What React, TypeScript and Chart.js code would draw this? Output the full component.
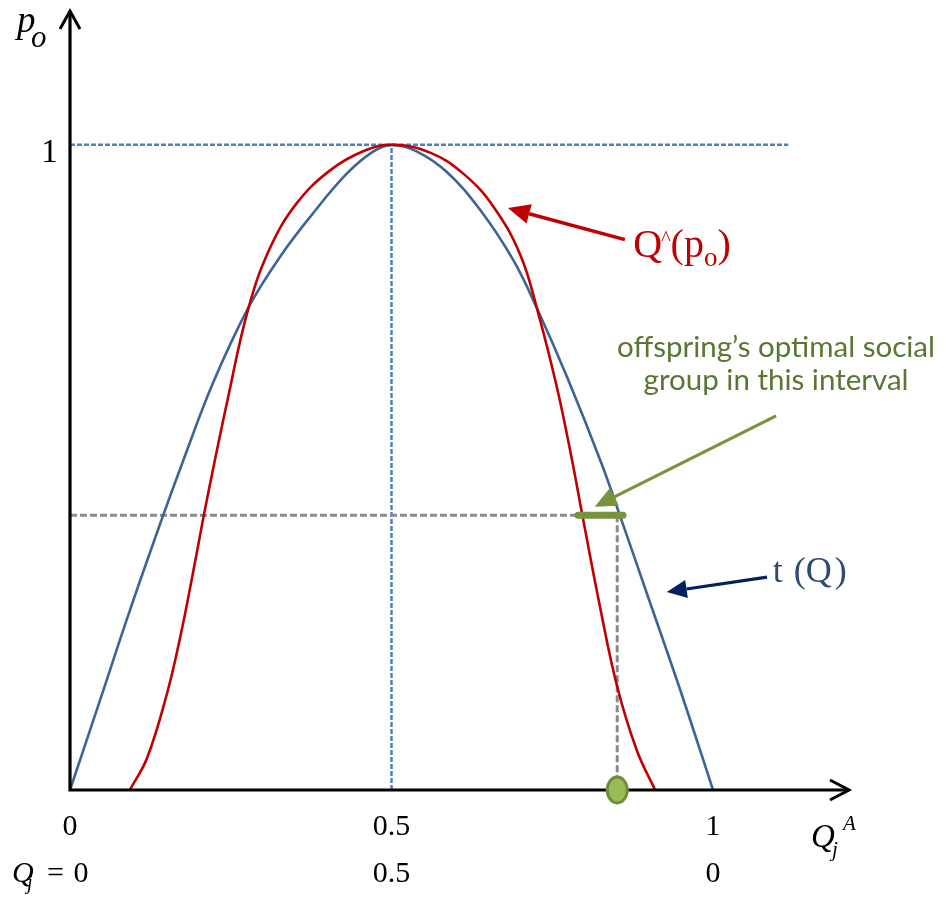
import React, { useEffect, useRef } from "react";
import { Chart, registerables } from "chart.js";

Chart.register(...registerables);

// ---- data ----
const tQ_x = [0, 0.047, 0.093, 0.145, 0.174, 0.222, 0.277, 0.327, 0.378, 0.43, 0.472, 0.502, 0.539, 0.586, 0.638, 0.689, 0.726, 0.773, 0.827, 0.855, 0.897, 0.949, 1.0];
const tQ_y = [0, 0.14, 0.278, 0.426, 0.505, 0.63, 0.747, 0.827, 0.894, 0.955, 0.99, 1.0, 0.99, 0.958, 0.899, 0.822, 0.747, 0.64, 0.505, 0.426, 0.305, 0.155, 0];

const qHat_x = [0.093, 0.12, 0.151, 0.171, 0.191, 0.207, 0.221, 0.244, 0.277, 0.311, 0.353, 0.404, 0.456, 0.502, 0.56, 0.612, 0.658, 0.7, 0.726, 0.757, 0.781, 0.796, 0.824, 0.851, 0.882, 0.91];
const qHat_y = [0, 0.05, 0.15, 0.235, 0.335, 0.42, 0.49, 0.6, 0.745, 0.84, 0.91, 0.96, 0.99, 1.0, 0.988, 0.955, 0.905, 0.83, 0.747, 0.625, 0.51, 0.43, 0.285, 0.16, 0.06, 0];

const xTickValues = [0, 0.5, 1];
const xTickLabels = ["0", "0.5", "1"];
const qjTickLabels = ["0", "0.5", "0"];
const yTickValues = [1];
const yTickLabels = ["1"];

const peak = { x: 0.5, y: 1 };
const refLineEndX = 1.117;
const level = { x: 0.851, y: 0.426 };
const interval = [0.79, 0.86];
const markerX = 0.851;
const axisMax = { x: 1.213, y: 1.209 };

// annotation anchors (data coordinates)
const notes = {
  qHatText: { x: 0.876, y: 0.826 },
  qHatArrow: { from: [0.863, 0.853], to: [0.681, 0.902] },
  tText: { x: 1.093, y: 0.322 },
  tArrow: { from: [1.084, 0.33], to: [0.928, 0.307] },
  groupText: { x: 1.098, y1: 0.671, y2: 0.62 },
  groupArrow: { from: [1.098, 0.58], to: [0.816, 0.439] },
};

const toPts = (xs: number[], ys: number[]) => xs.map((x, i) => ({ x, y: ys[i] }));

function drawArrow(ctx: CanvasRenderingContext2D, x1: number, y1: number, x2: number, y2: number, color: string, width: number, headLen: number, headHalf: number) {
  const ang = Math.atan2(y2 - y1, x2 - x1);
  const bx = x2 - headLen * Math.cos(ang);
  const by = y2 - headLen * Math.sin(ang);
  ctx.strokeStyle = color;
  ctx.fillStyle = color;
  ctx.lineWidth = width;
  ctx.lineCap = "butt";
  ctx.beginPath();
  ctx.moveTo(x1, y1);
  ctx.lineTo(bx, by);
  ctx.stroke();
  ctx.beginPath();
  ctx.moveTo(x2, y2);
  ctx.lineTo(bx + headHalf * Math.sin(ang), by - headHalf * Math.cos(ang));
  ctx.lineTo(bx - headHalf * Math.sin(ang), by + headHalf * Math.cos(ang));
  ctx.closePath();
  ctx.fill();
}

const overlay = {
  id: "overlay",
  afterDatasetsDraw(chart: any) {
    const ctx: CanvasRenderingContext2D = chart.ctx;
    const xs = chart.scales.x;
    const ys = chart.scales.y;
    const X = (v: number) => xs.getPixelForValue(v);
    const Y = (v: number) => ys.getPixelForValue(v);
    const ox = X(0);
    const oy = Y(0);
    const right = X(axisMax.x);
    const top = Y(axisMax.y);
    const serif = '"Liberation Serif", "Times New Roman", serif';
    ctx.save();

    // axes
    ctx.strokeStyle = "#000";
    ctx.lineWidth = 3.2;
    ctx.beginPath();
    ctx.moveTo(ox - 1.6, oy);
    ctx.lineTo(right - 1, oy);
    ctx.moveTo(ox, oy + 1.6);
    ctx.lineTo(ox, top + 1);
    ctx.stroke();
    ctx.lineWidth = 3;
    ctx.lineJoin = "miter";
    ctx.beginPath();
    ctx.moveTo(right - 20, oy - 10);
    ctx.lineTo(right - 1, oy);
    ctx.lineTo(right - 20, oy + 10);
    ctx.stroke();
    ctx.beginPath();
    ctx.moveTo(ox - 10, top + 19);
    ctx.lineTo(ox, top + 1);
    ctx.lineTo(ox + 10, top + 19);
    ctx.stroke();

    // marker on the axis
    ctx.beginPath();
    ctx.ellipse(X(markerX), oy, 10, 13, 0, 0, Math.PI * 2);
    ctx.fillStyle = "#9BBB59";
    ctx.fill();
    ctx.lineWidth = 3;
    ctx.strokeStyle = "#718D3A";
    ctx.stroke();

    // tick labels
    ctx.fillStyle = "#000";
    ctx.textBaseline = "alphabetic";
    ctx.font = `30px ${serif}`;
    ctx.textAlign = "center";
    xTickValues.forEach((v, i) => {
      ctx.fillText(xTickLabels[i], X(v), oy + 45);
      if (i > 0) ctx.fillText(qjTickLabels[i], X(v), oy + 92);
    });
    // Q_j = 0
    ctx.textAlign = "left";
    const q0x = X(xTickValues[0]);
    ctx.font = `italic 30px ${serif}`;
    ctx.fillText("Q", q0x - 58, oy + 92);
    ctx.font = `italic 20px ${serif}`;
    ctx.fillText("j", q0x - 43, oy + 99);
    ctx.font = `30px ${serif}`;
    ctx.fillText("=", q0x - 23, oy + 92);
    ctx.textAlign = "center";
    ctx.fillText(qjTickLabels[0], q0x + 11, oy + 92);

    // Q_j^A
    ctx.textAlign = "left";
    ctx.font = `italic 33px ${serif}`;
    ctx.fillText("Q", right - 39, oy + 57);
    ctx.font = `italic 21px ${serif}`;
    ctx.fillText("j", right - 18, oy + 66);
    ctx.fillText("A", right - 7, oy + 40);

    // y labels
    ctx.textAlign = "right";
    ctx.font = `34px ${serif}`;
    yTickValues.forEach((v, i) => ctx.fillText(yTickLabels[i], ox - 12, Y(v) + 17));
    ctx.textAlign = "left";
    ctx.font = `italic 37px ${serif}`;
    ctx.fillText("p", ox - 53, top + 22);
    ctx.font = `italic 31px ${serif}`;
    ctx.fillText("o", ox - 39, top + 37);

    // Q^(p_o) annotation
    drawArrow(ctx, X(notes.qHatArrow.from[0]), Y(notes.qHatArrow.from[1]), X(notes.qHatArrow.to[0]), Y(notes.qHatArrow.to[1]), "#C00000", 3.5, 22, 10);
    ctx.fillStyle = "#C00000";
    ctx.textAlign = "left";
    let cx = X(notes.qHatText.x);
    const qb = Y(notes.qHatText.y);
    ctx.font = `40px ${serif}`;
    ctx.fillText("Q", cx, qb);
    cx += ctx.measureText("Q").width;
    ctx.font = `20px ${serif}`;
    ctx.fillText("^", cx - 1, qb - 12);
    cx += ctx.measureText("^").width - 1;
    ctx.font = `40px ${serif}`;
    ctx.fillText("(", cx, qb);
    cx += ctx.measureText("(").width;
    ctx.fillText("p", cx, qb);
    cx += ctx.measureText("p").width;
    ctx.font = `27px ${serif}`;
    ctx.fillText("o", cx, qb + 9);
    cx += ctx.measureText("o").width;
    ctx.font = `40px ${serif}`;
    ctx.fillText(")", cx, qb);

    // t(Q) annotation
    drawArrow(ctx, X(notes.tArrow.from[0]), Y(notes.tArrow.from[1]), X(notes.tArrow.to[0]), Y(notes.tArrow.to[1]), "#002060", 3.2, 20, 9);
    ctx.fillStyle = "#2F4B74";
    ctx.font = `36px ${serif}`;
    const tx = X(notes.tText.x);
    const tb = Y(notes.tText.y);
    ctx.fillText("t", tx, tb);
    ctx.fillText("(", tx + 21, tb);
    ctx.fillText("Q", tx + 33, tb);
    ctx.fillText(")", tx + 62, tb);

    // group annotation
    drawArrow(ctx, X(notes.groupArrow.from[0]), Y(notes.groupArrow.from[1]), X(notes.groupArrow.to[0]), Y(notes.groupArrow.to[1]), "#77933C", 3, 22, 10);
    ctx.fillStyle = "#5B7633";
    ctx.textAlign = "center";
    ctx.font = `29.5px Lato, "Open Sans", sans-serif`;
    ctx.fillText("offspring\u2019s optimal social", X(notes.groupText.x), Y(notes.groupText.y1));
    ctx.fillText("group in this interval", X(notes.groupText.x), Y(notes.groupText.y2));

    ctx.restore();
  },
};

export default function App() {
  const ref = useRef<HTMLCanvasElement | null>(null);
  useEffect(() => {
    document.body.style.margin = "0";
    if (!ref.current) return;
    const dashedBlue = { borderColor: "#4F81BD", borderWidth: 2.5, borderDash: [5, 2], pointRadius: 0, tension: 0 };
    const dashedGray = { borderColor: "#8A8A8A", borderWidth: 3, borderDash: [7, 3], pointRadius: 0, tension: 0 };
    const chart = new Chart(ref.current, {
      type: "line",
      data: {
        datasets: [
          { label: "interval", data: [{ x: interval[0], y: level.y }, { x: interval[1], y: level.y }], borderColor: "#77933C", borderWidth: 7, borderCapStyle: "round", pointRadius: 0 } as any,
          { label: "Q^(p_o)", data: toPts(qHat_x, qHat_y), borderColor: "#C00000", borderWidth: 2.6, pointRadius: 0, tension: 0.4 } as any,
          { label: "t(Q)", data: toPts(tQ_x, tQ_y), borderColor: "#3E6395", borderWidth: 2.6, pointRadius: 0, tension: 0.4 } as any,
          { label: "h1", data: [{ x: 0, y: level.y }, { x: level.x, y: level.y }], ...dashedGray } as any,
          { label: "v1", data: [{ x: level.x, y: level.y }, { x: level.x, y: 0 }], ...dashedGray } as any,
          { label: "h2", data: [{ x: 0, y: peak.y }, { x: refLineEndX, y: peak.y }], ...dashedBlue } as any,
          { label: "v2", data: [{ x: peak.x, y: 0 }, { x: peak.x, y: peak.y }], ...dashedBlue } as any,
        ],
      },
      options: {
        animation: false,
        responsive: false,
        layout: { padding: { left: 70, right: 95, top: 10, bottom: 111 } },
        plugins: { legend: { display: false }, tooltip: { enabled: false } },
        elements: { line: { fill: false } },
        datasets: { line: { clip: false } } as any,
        scales: {
          x: { type: "linear", min: 0, max: axisMax.x, display: false },
          y: { type: "linear", min: 0, max: axisMax.y, display: false },
        },
      },
      plugins: [overlay],
    });
    return () => chart.destroy();
  }, []);
  return (
    <div style={{ width: 945, height: 901, background: "#fff" }}>
      <canvas ref={ref} width={945} height={901} style={{ display: "block", width: 945, height: 901 }} />
    </div>
  );
}
